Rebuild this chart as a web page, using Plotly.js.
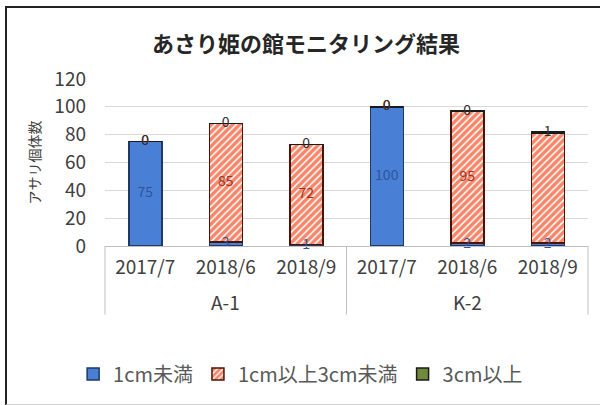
<!DOCTYPE html>
<html>
<head>
<meta charset="utf-8">
<script src="https://cdn.plot.ly/plotly-3.0.1.min.js"></script>
<style>
html,body{margin:0;padding:0;background:#fff;}
#wrap{position:relative;width:600px;height:405px;}
#chart{position:absolute;left:0;top:0;width:600px;height:405px;}
#frame{position:absolute;left:5px;top:6px;width:600px;height:396px;border-top:2px solid #222;border-left:2px solid #222;border-bottom:1px solid #cfcfcf;pointer-events:none;}
</style>
</head>
<body>
<div id="wrap"><div id="chart"></div><div id="frame"></div></div>
<script>
const groups = ["A-1","A-1","A-1","K-2","K-2","K-2"];
const dates = ["2017/7","2018/6","2018/9","2017/7","2018/6","2018/9"];
const under1 = [75, 3, 1, 100, 2, 2];
const mid1to3 = [0, 85, 72, 0, 95, 79];
const over3 = [0, 0, 0, 0, 0, 1];
const midLabels = ["0","85","72","0","95",""];
const seriesNames = ["1cm未満","1cm以上3cm未満","3cm以上"];

const F = '"Noto Sans CJK JP", "Noto Sans", sans-serif';
// unique category keys (group + date) so repeated dates stay separate
const keys = groups.map((g, i) => g + " " + dates[i]);

const bar = (name, y, marker) => ({type:'bar', name, x:keys, y, marker, hoverinfo:'y'});
const mid = (base, v) => base.map((b, i) => b + v[i] / 2);
const base2 = under1;
const base3 = under1.map((u, i) => u + mid1to3[i]);
const lab = (y, text, color) => ({type:'scatter', mode:'text', x:keys, y, text,
  textposition:'middle center', textfont:{family:F, size:14, color}, showlegend:false, hoverinfo:'skip', cliponaxis:false});

const traces = [
  bar(seriesNames[0], under1, {color:'#4a7fd6', line:{color:'#1f3864', width:1.5}}),
  bar(seriesNames[1], mid1to3, {color:'#f7866a', line:{color:'#4a1408', width:1.5},
     pattern:{shape:'/', bgcolor:'#f7866a', fgcolor:'#ffffff', size:5, solidity:0.3}}),
  bar(seriesNames[2], over3, {color:'#6f8a3a', line:{color:'#1a1a1a', width:1.5}}),
  lab(mid([0,0,0,0,0,0], under1), under1.map(String), '#2f5597'),
  lab(mid(base2, mid1to3), midLabels, '#a0321a'),
  lab(mid(base3, over3), over3.map(String), '#303030')
];

// group labels centred under each group of categories
const uniqGroups = [...new Set(groups)];
const groupAnn = uniqGroups.map(g => {
  const idx = groups.map((v, i) => v === g ? i : -1).filter(i => i >= 0);
  const c = (idx[0] + idx[idx.length - 1]) / 2;
  return {x:c, xref:'x', y:-0.333, yref:'paper', text:g, showarrow:false,
    font:{family:F, size:19, color:'#404040'}, xanchor:'center', yanchor:'middle'};
});
const divLine = {color:'#bfbfbf', width:1};
const dividers = [0, 0.5, 1].map(px => ({type:'line', xref:'paper', yref:'paper', x0:px, x1:px, y0:0, y1:-0.41, line:divLine}));

const layout = {
  width:600, height:405,
  margin:{l:105, r:12, t:79, b:155},
  paper_bgcolor:'#fff', plot_bgcolor:'#fff',
  barmode:'stack', bargap:0.59,
  showlegend:true,
  title:{text:'あさり姫の館モニタリング結果', font:{family:F, size:22, color:'#262626', weight:'bold'}, x:0.51, xanchor:'center', y:0.891, yanchor:'middle'},
  font:{family:F, color:'#595959'},
  xaxis:{type:'category', tickvals:keys, ticktext:dates, showline:true, linecolor:'#bfbfbf', linewidth:1,
    tickfont:{family:F, size:19, color:'#404040'}, ticks:'outside', ticklen:4, tickcolor:'rgba(0,0,0,0)', showgrid:false},
  yaxis:{range:[0,120], dtick:20, showgrid:true, gridcolor:'#d9d9d9', gridwidth:1, zeroline:false,
    tickfont:{family:F, size:19, color:'#404040'}, ticks:'', ticklabelstandoff:18,
    title:{text:'アサリ個体数', font:{family:F, size:14, color:'#404040'}, standoff:10}},
  legend:{orientation:'h', x:-0.066, xanchor:'left', y:-0.766, yanchor:'middle',
    font:{family:F, size:20, color:'#595959'}, traceorder:'normal', itemwidth:30},
  annotations:groupAnn,
  shapes:dividers
};

Plotly.newPlot('chart', traces, layout, {displayModeBar:false, staticPlot:true});
</script>
</body>
</html>
